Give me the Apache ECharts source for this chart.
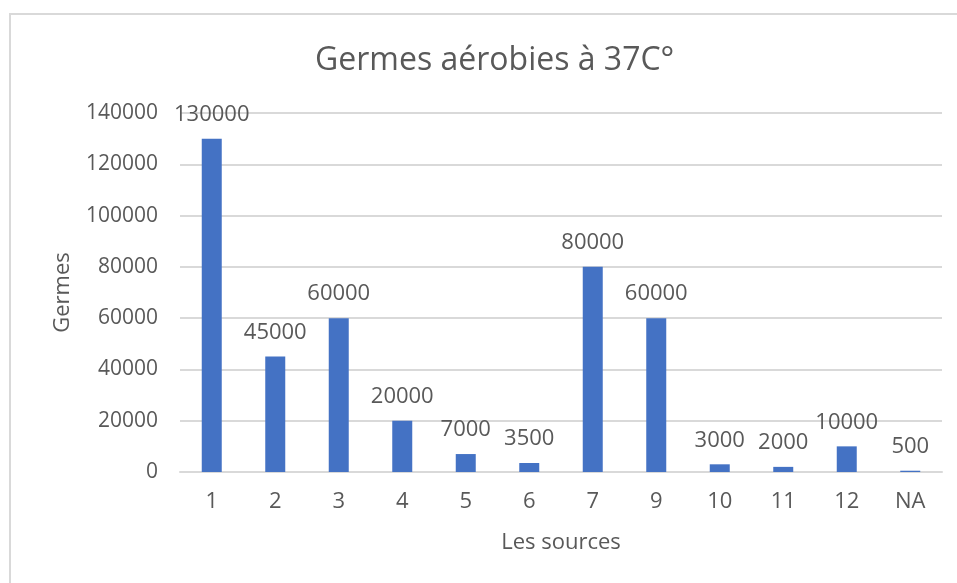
<!DOCTYPE html>
<html>
<head>
<meta charset="utf-8">
<script src="https://cdn.jsdelivr.net/npm/echarts@6/dist/echarts.min.js"></script>
<style>
  html, body { margin: 0; padding: 0; background: #fff; }
  #chart { width: 957px; height: 583px; }
</style>
</head>
<body>
<div id="chart"></div>
<script>
const sources = ['1', '2', '3', '4', '5', '6', '7', '9', '10', '11', '12', 'NA'];
const germes = [130000, 45000, 60000, 20000, 7000, 3500, 80000, 60000, 3000, 2000, 10000, 500];

const textColor = '#595959'; // grey text like the office chart
const font = 'Open Sans';

const chart = echarts.init(document.getElementById('chart'));
chart.setOption({
  animation: false,
  textStyle: { fontFamily: font },
  title: {
    text: 'Germes aérobies à 37C°',
    left: 310,
    top: 40,
    textStyle: { color: textColor, fontSize: 32, fontWeight: 'normal', fontFamily: font }
  },
  graphic: [{
    type: 'rect',
    shape: { x: 10, y: 14, width: 1200, height: 1000 },
    style: { fill: 'none', stroke: '#d9d9d9', lineWidth: 2 }
  }],
  grid: { left: 180, right: 15, top: 113, bottom: 111 },
  xAxis: {
    type: 'category',
    data: sources,
    name: 'Les sources',
    nameLocation: 'middle',
    nameGap: 60,
    nameTextStyle: { color: textColor, fontSize: 22 },
    axisLine: { lineStyle: { color: '#d9d9d9', width: 2 } },
    axisTick: { show: false },
    axisLabel: { color: textColor, fontSize: 22, margin: 19 }
  },
  yAxis: {
    type: 'value',
    min: 0,
    max: 140000,
    interval: 20000,
    name: 'Germes',
    nameLocation: 'middle',
    nameGap: 106,
    nameTextStyle: { color: textColor, fontSize: 22 },
    axisLine: { show: false },
    axisTick: { show: false },
    axisLabel: { color: textColor, fontSize: 21, margin: 22, formatter: v => String(v) },
    splitLine: { lineStyle: { color: '#d9d9d9', width: 2 } }
  },
  series: [{
    type: 'bar',
    data: germes,
    barWidth: 20,
    itemStyle: { color: '#4472c4' },
    label: {
      show: true,
      position: 'top',
      distance: 13,
      color: textColor,
      fontSize: 22
    }
  }]
});
</script>
</body>
</html>
